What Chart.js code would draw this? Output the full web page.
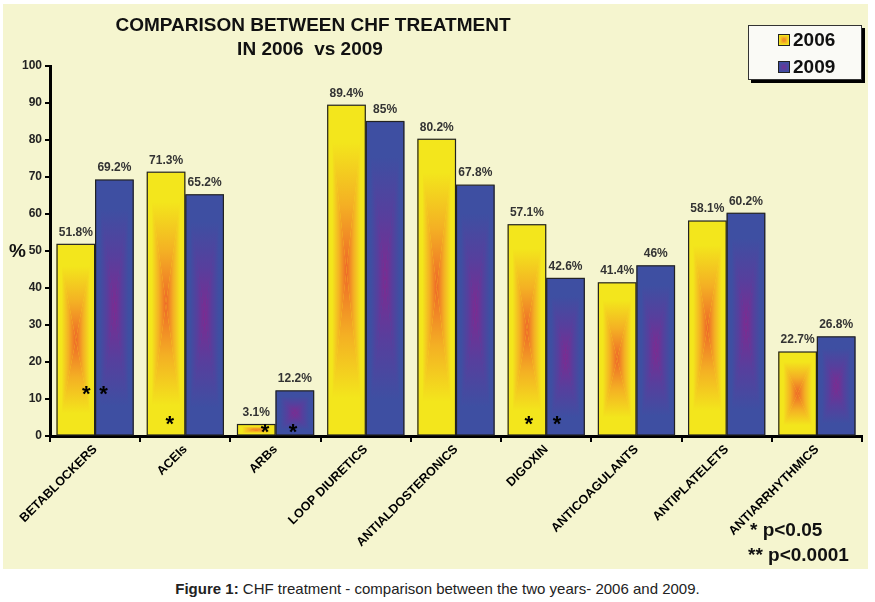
<!DOCTYPE html>
<html>
<head>
<meta charset="utf-8">
<script src="https://cdn.jsdelivr.net/npm/chart.js@4.4.0/dist/chart.umd.min.js"></script>
<style>
  body { margin: 0; background: #fff; font-family: Arial, "Liberation Sans", sans-serif; }
  #box { position: absolute; left: 3px; top: 4px; width: 865px; height: 565px; background: #f5f5cf; }
  #cap { position: absolute; left: 0; top: 580px; width: 875px; text-align: center; font-size: 15px; color: #222; }
</style>
</head>
<body>
<div id="box"><canvas id="myChart"></canvas></div>
<div id="cap"><b>Figure 1:</b> CHF treatment - comparison between the two years- 2006 and 2009.</div>
<script>
var labels = ["BETABLOCKERS", "ACEIs", "ARBs", "LOOP DIURETICS", "ANTIALDOSTERONICS",
              "DIGOXIN", "ANTICOAGULANTS", "ANTIPLATELETS", "ANTIARRHYTHMICS"];
var data2006 = [51.8, 71.3, 3.1, 89.4, 80.2, 57.1, 41.4, 58.1, 22.7];
var data2009 = [69.2, 65.2, 12.2, 85, 67.8, 42.6, 46, 60.2, 26.8];
// level (in %) where the significance asterisks sit
var stars2006 = [12.4, 4.3, 2.2, null, null, 4.3, null, null, null];
var stars2009 = [12.4, null, 2.2, null, null, 4.3, null, null, null];

var ramps = [
  ["#f3e61c", "#f3e61c", "#f4b024", "#ee6628"],   // 2006 yellow -> orange
  ["#3e4fa2", "#3e4fa2", "#573f9d", "#7e2a90"]    // 2009 blue -> purple
];

// rectangle "from centre" gradient, four triangles
function rectFill(ctx, l, t, r, b, ramp) {
  var cx = (l + r) / 2, cy = (t + b) / 2;
  function tri(p, g) {
    g.addColorStop(0, ramp[0]);
    g.addColorStop(0.22, ramp[1]);
    g.addColorStop(0.6, ramp[2]);
    g.addColorStop(1, ramp[3]);
    ctx.fillStyle = g;
    ctx.beginPath();
    ctx.moveTo(p[0], p[1]); ctx.lineTo(p[2], p[3]); ctx.lineTo(cx, cy);
    ctx.closePath();
    ctx.fill();
  }
  ctx.fillStyle = ramp[1];
  ctx.fillRect(l, t, r - l, b - t);
  tri([l, t, r, t], ctx.createLinearGradient(cx, t, cx, cy));
  tri([l, b, r, b], ctx.createLinearGradient(cx, b, cx, cy));
  tri([l, t, l, b], ctx.createLinearGradient(l, cy, cx, cy));
  tri([r, t, r, b], ctx.createLinearGradient(r, cy, cx, cy));
}

const barDecor = {
  id: "barDecor",
  afterDatasetsDraw(chart) {
    const ctx = chart.ctx;
    const yScale = chart.scales.y;
    const stars = [stars2006, stars2009];
    const shift = [[0.27, 0.1, 0.23, 0, 0, 0.05, 0, 0, 0], [-0.28, 0, -0.05, 0, 0, -0.22, 0, 0, 0]];
    ctx.save();
    chart.data.datasets.forEach(function (ds, di) {
      chart.getDatasetMeta(di).data.forEach(function (el, i) {
        const p = el.getProps(["x", "y", "base", "width"], true);
        const l = p.x - p.width / 2, r = p.x + p.width / 2;
        ctx.save();
        ctx.beginPath();
        ctx.rect(l + 1, p.y + 1, p.width - 2, p.base - p.y - 2);
        ctx.clip();
        rectFill(ctx, l + 1, p.y + 1, r - 1, p.base - 1, ramps[di]);
        ctx.restore();
        ctx.strokeStyle = "#222";
        ctx.lineWidth = 1.2;
        ctx.strokeRect(l + 0.5, p.y, p.width - 1, p.base - p.y);
        // value label
        ctx.fillStyle = "#333";
        ctx.font = "bold 12px Arial";
        ctx.textAlign = "center";
        ctx.textBaseline = "bottom";
        ctx.fillText(ds.data[i] + "%", p.x, p.y - 6);
        // asterisk
        const s = stars[di][i];
        if (s !== null) {
          ctx.fillStyle = "#000";
          ctx.font = "bold 22px Arial";
          ctx.textBaseline = "middle";
          ctx.fillText("*", p.x + shift[di][i] * p.width, yScale.getPixelForValue(s) + 5);
        }
      });
    });
    ctx.restore();
  },
  afterDraw(chart) {
    const ctx = chart.ctx;
    ctx.save();
    ctx.fillStyle = "#111";
    ctx.textAlign = "center";
    ctx.textBaseline = "middle";
    ctx.font = "bold 19px Arial";
    ctx.fillText("COMPARISON BETWEEN CHF TREATMENT", 310, 22);
    ctx.fillText("IN 2006  vs 2009", 307, 46);
    ctx.font = "bold 19px Arial";
    ctx.textAlign = "left";
    ctx.fillText("%", 6, 248);
    // legend box
    ctx.fillStyle = "#000";
    ctx.fillRect(748, 24, 114, 55);
    ctx.fillStyle = "#fafaf6";
    ctx.fillRect(745, 21, 114, 55);
    ctx.strokeStyle = "#333";
    ctx.lineWidth = 1;
    ctx.strokeRect(745.5, 21.5, 113, 54);
    ["2006", "2009"].forEach(function (t, k) {
      const yy = 36 + k * 27;
      rectFill(ctx, 775, yy - 6, 787, yy + 6, ramps[k]);
      ctx.strokeStyle = "#222";
      ctx.strokeRect(775.5, yy - 5.5, 11, 11);
      ctx.fillStyle = "#111";
      ctx.font = "bold 19px Arial";
      ctx.fillText(t, 790, yy + 1);
    });
    // significance note
    ctx.font = "bold 19px Arial";
    ctx.fillText("* p<0.05", 747, 527);
    ctx.fillText("** p<0.0001", 745, 552);
    ctx.restore();
  }
};

const myChart = new Chart("myChart", {
  type: "bar",
  data: {
    labels: labels,
    datasets: [
      { label: "2006", data: data2006, backgroundColor: "#f3e61c", borderWidth: 0 },
      { label: "2009", data: data2009, backgroundColor: "#3e4fa2", borderWidth: 0 }
    ]
  },
  options: {
    responsive: true,
    maintainAspectRatio: false,
    animation: false,
    categoryPercentage: 0.855,
    barPercentage: 1,
    layout: { padding: { top: 62, right: 6, left: 0, bottom: 0 } },
    plugins: { legend: { display: false }, tooltip: { enabled: false } },
    scales: {
      x: {
        grid: { offset: true, drawOnChartArea: false, drawTicks: true, tickLength: 6, color: "#000", lineWidth: 2 },
        border: { color: "#000", width: 3 },
        ticks: { color: "#000", font: { family: "Arial", weight: "bold", size: 12.5 }, minRotation: 45, maxRotation: 45, padding: 0 },
        afterFit: function (s) { s.height = 133; }
      },
      y: {
        min: 0, max: 100,
        grid: { drawOnChartArea: false, drawTicks: true, tickLength: 5, color: "#000", lineWidth: 2 },
        border: { color: "#000", width: 3 },
        ticks: { stepSize: 10, color: "#222", font: { family: "Arial", weight: "bold", size: 12 }, padding: 3 },
        afterFit: function (s) { s.width = 47; }
      }
    }
  },
  plugins: [barDecor]
});
</script>
</body>
</html>
